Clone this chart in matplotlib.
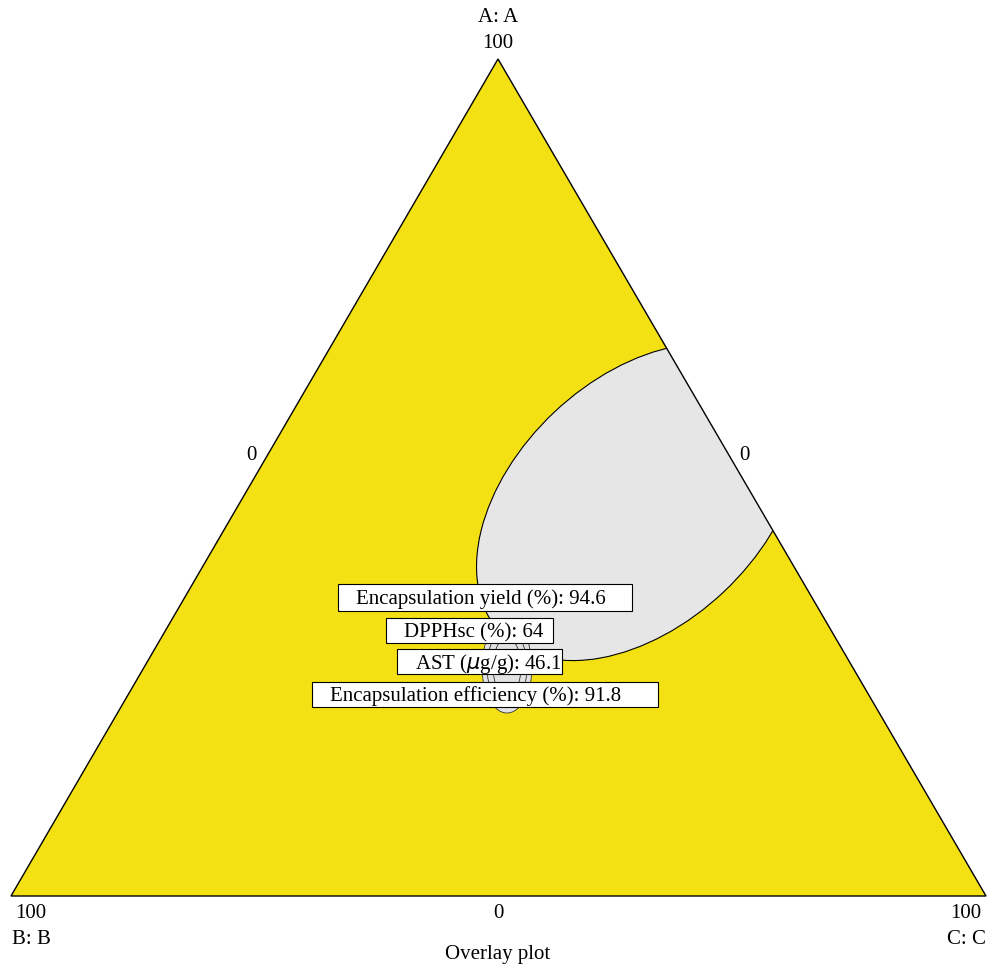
import matplotlib
matplotlib.use("Agg")
import matplotlib.pyplot as plt
from matplotlib.patches import Polygon, Ellipse, Rectangle

plt.rcParams['font.family'] = ['Liberation Serif', 'DejaVu Serif']

# ternary frame (pixel space of the picture)
vertex_names = ['A: A', 'B: B', 'C: C']
vertex_xy = [(498, 59), (11, 896), (986, 896)]
vertex_max = ['100', '100', '100']
edge_zero = ['0', '0', '0']

# feasible region (gray), fitted to the contour of the picture
region_center = (639, 502)
region_size = (247, 381)
region_angle = 46.7
# small optimum contours
opt_center = (507, 667)
opt_sizes = [(50, 92), (40, 76), (28, 58)]

# overlay flags
flag_text = ['Encapsulation yield (%): 94.6', 'DPPHsc (%): 64',
             'AST ($\\mu$g/g): 46.1', 'Encapsulation efficiency (%): 91.8']
flag_left = [338, 386, 397, 312]
flag_right = [632, 553, 562, 658]
flag_top = [584, 618, 649, 682]
flag_bottom = [611, 643, 674, 707]

fig = plt.figure(figsize=(9.89, 9.66), dpi=100)
ax = fig.add_axes([0, 0, 1, 1])
ax.set_xlim(0, 989)
ax.set_ylim(966, 0)
ax.axis('off')

tri = Polygon(vertex_xy, closed=True, facecolor='#F4E113', edgecolor='none', zorder=1)
ax.add_patch(tri)

reg = Ellipse(region_center, region_size[0], region_size[1], angle=region_angle,
              facecolor='#E6E6E6', edgecolor='black', lw=0.8, zorder=2)
ax.add_patch(reg)
reg.set_clip_path(tri)

for w, h in opt_sizes:
    e = Ellipse(opt_center, w, h, facecolor='#E2E2E4', edgecolor='#333333', lw=0.6, zorder=3)
    ax.add_patch(e)

ax.add_patch(Polygon(vertex_xy, closed=True, facecolor='none', edgecolor='black', lw=1.0, zorder=4))

fs = 15
for t, l, r, tp, b in zip(flag_text, flag_left, flag_right, flag_top, flag_bottom):
    ax.add_patch(Rectangle((l, tp), r - l, b - tp, facecolor='white', edgecolor='black', lw=0.8, zorder=5))
    ax.text(l + 18, (tp + b) / 2 + 2, t, ha='left', va='center', fontsize=fs, zorder=6)

# vertex labels
ax.text(498, 18, vertex_names[0], ha='center', va='center', fontsize=fs)
ax.text(498, 43, vertex_max[0], ha='center', va='center', fontsize=fs)
ax.text(31, 914, vertex_max[1], ha='center', va='center', fontsize=fs)
ax.text(31, 940, vertex_names[1], ha='center', va='center', fontsize=fs)
ax.text(966, 914, vertex_max[2], ha='center', va='center', fontsize=fs)
ax.text(966, 940, vertex_names[2], ha='center', va='center', fontsize=fs)
ax.text(498, 914, edge_zero[0], ha='center', va='center', fontsize=fs)
ax.text(251, 456, edge_zero[1], ha='center', va='center', fontsize=fs)
ax.text(744, 456, edge_zero[2], ha='center', va='center', fontsize=fs)
ax.text(498, 954, 'Overlay plot', ha='center', va='center', fontsize=fs)

fig.savefig('out.png', dpi=100, facecolor='white')
